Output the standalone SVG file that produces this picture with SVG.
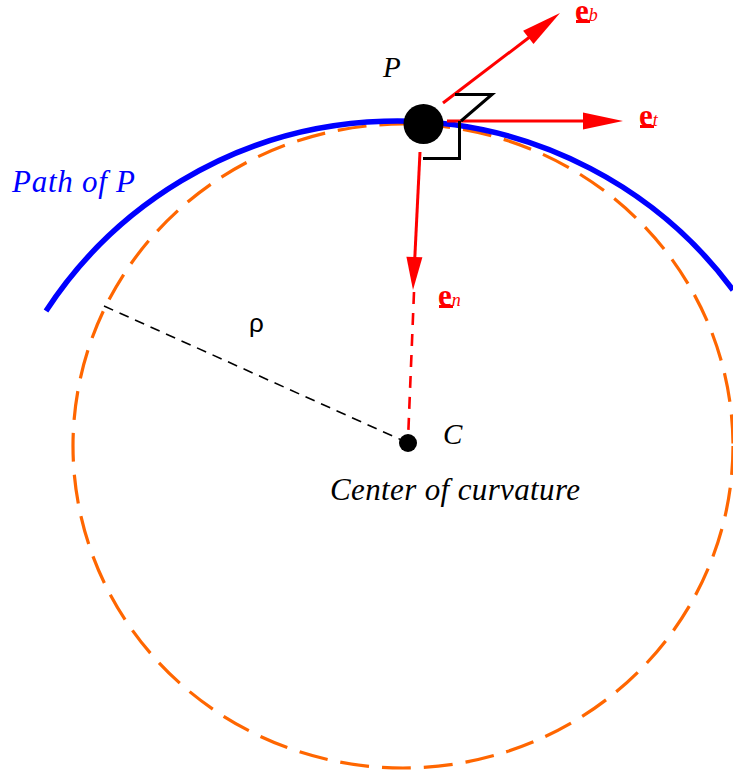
<svg xmlns="http://www.w3.org/2000/svg" width="733" height="778" viewBox="0 0 733 778">
<style>
.it{font-family:"Liberation Serif","Times New Roman",serif;font-style:italic;}
.vec{font-family:"Liberation Serif","Times New Roman",serif;font-weight:bold;font-size:31px;fill:#ff0000;}
.sub{font-family:"Liberation Serif","Times New Roman",serif;font-style:italic;font-weight:normal;font-size:18px;fill:#ff0000;}
.red{stroke:#ff0000;stroke-width:3;fill:none;}
.head{fill:#ff0000;stroke:none;}
.blk{stroke:#000;stroke-width:3;fill:none;}
</style>
<rect width="733" height="778" fill="#fff"/>
<g id="osculating-circle">
<ellipse cx="403" cy="446" rx="330" ry="322" fill="none" stroke="#ff6600" stroke-width="3.2" stroke-dasharray="29 13"/>
</g>
<g id="path">
<path d="M46,311 A419,419 0 0,1 733,290" fill="none" stroke="#0000ff" stroke-width="5.5"/>
<text class="it" x="12" y="192" font-size="31" fill="#0000ff" textLength="123">Path of P</text>
</g>
<g id="connectors">
<line x1="104" y1="306" x2="406" y2="442" stroke="#000" stroke-width="1.6" stroke-dasharray="10 7"/>
<line x1="414" y1="292" x2="408" y2="440" stroke="#ff0000" stroke-width="2.6" stroke-dasharray="12 9"/>
<line class="red" x1="447" y1="121" x2="590" y2="121"/>
<polygon class="head" points="623,121 583,112.5 583,129.5"/>
<line class="red" x1="443" y1="103" x2="531" y2="36"/>
<polygon class="head" points="560,13 533.5,44.1 523.1,30.7"/>
<line class="red" x1="420" y1="152" x2="414.6" y2="262"/>
<polygon class="head" points="413,290 422.4,257.3 406.4,256.7"/>
<polyline class="blk" points="455,94.5 492,94.5 461,121"/>
<polyline class="blk" points="459.5,121 459.5,158.5 423,158.5"/>
</g>
<g id="P">
<circle cx="423.5" cy="124" r="20" fill="#000"/>
<text class="it" x="383" y="77" font-size="29" fill="#000">P</text>
</g>
<g id="C">
<circle cx="408" cy="443" r="9" fill="#000"/>
<text class="it" x="443" y="444" font-size="29" fill="#000">C</text>
<text class="it" x="330" y="500" font-size="31" fill="#000" textLength="250">Center of curvature</text>
</g>
<g id="rho">
<text x="249" y="332" font-family="'Liberation Sans',Arial,sans-serif" font-size="26" fill="#000">ρ</text>
</g>
<g id="eb">
<text class="vec" x="575" y="21">e<tspan class="sub" dx="0">b</tspan></text>
<rect x="576" y="20" width="14" height="3" fill="#ff0000"/>
</g>
<g id="et">
<text class="vec" x="639" y="126">e<tspan class="sub" dx="0">t</tspan></text>
<rect x="640" y="125" width="14" height="3" fill="#ff0000"/>
</g>
<g id="en">
<text class="vec" x="438" y="306">e<tspan class="sub" dx="0">n</tspan></text>
<rect x="439" y="305" width="14" height="3" fill="#ff0000"/>
</g>
</svg>
